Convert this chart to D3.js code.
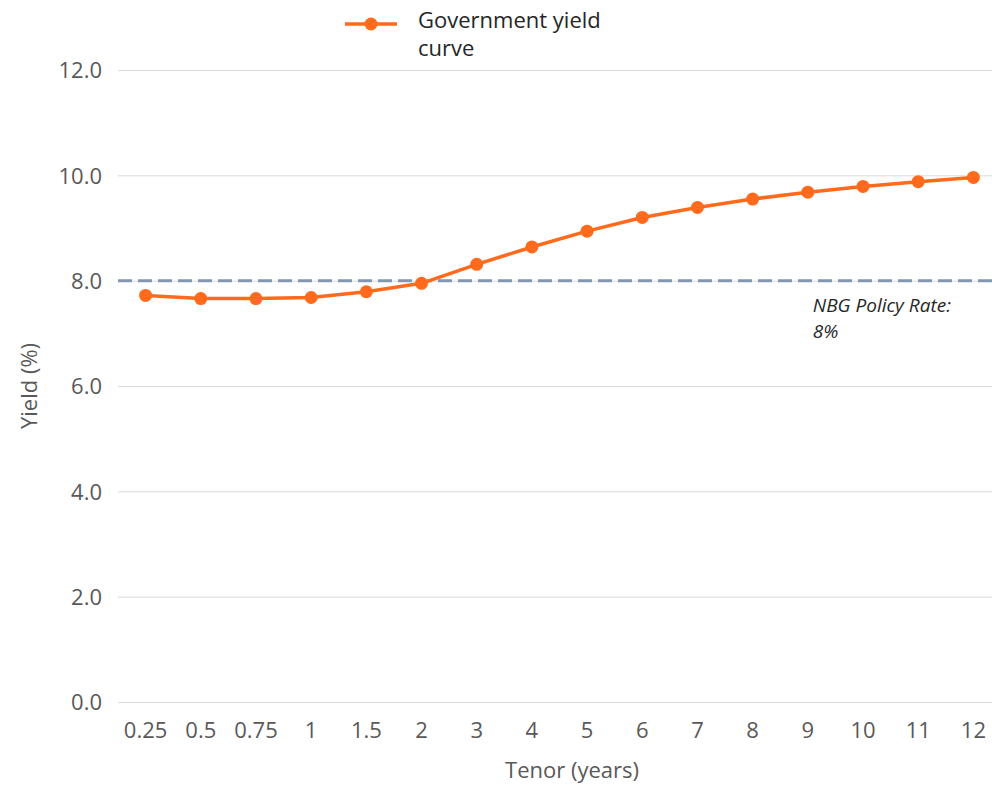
<meta charset="utf-8">
<script src="https://cdn.jsdelivr.net/npm/d3@7/dist/d3.min.js"></script>

<style>
  body {
    margin: 0;
    background-color: #ffffff;
  }
  .chartText {
    font-family: "Open Sans", "Noto Sans", sans-serif;
  }
  .grid line {
    stroke: #d9d9d9;
    stroke-width: 1;
  }
</style>

<div id="yieldcurve"></div>

<script>
// tenors along the x axis (categories)
var tenors = ["0.25", "0.5", "0.75", "1", "1.5", "2", "3", "4", "5", "6", "7", "8", "9", "10", "11", "12"];
// government yields
var yields = [7.72, 7.66, 7.66, 7.68, 7.79, 7.95, 8.31, 8.64, 8.94, 9.20, 9.39, 9.55, 9.68, 9.79, 9.88, 9.96];
// NBG policy rate
var policyRate = 8;
var yTicks = [0, 2, 4, 6, 8, 10, 12];

var seriesName = ["Government yield", "curve"];
var policyLabel = ["NBG Policy Rate:", "8%"];

var orange = "#ff6a1c";
var grey = "#8497b0";
var textCol = "#595959";
var fontFam = "'Open Sans', 'Noto Sans', sans-serif";

// plot area runs a bit past the right edge, like the original
var margin = {top: 70, left: 118},
    plotW = 883,
    plotH = 632;

var svg = d3.select("#yieldcurve")
  .append("svg")
    .attr("width", 992)
    .attr("height", 785)
    .attr("class", "chartText");

var g = svg.append("g")
    .attr("transform", "translate(" + margin.left + "," + margin.top + ")");

var x = d3.scaleBand()
  .domain(tenors)
  .range([0, plotW]);

var y = d3.scaleLinear()
  .domain([0, 12])
  .range([plotH, 0]);

// gridlines
g.append("g")
    .attr("class", "grid")
    .call(d3.axisLeft(y).tickValues(yTicks).tickSize(-plotW).tickFormat(""))
    .select(".domain").remove();

// y axis labels
var yAxis = g.append("g")
    .call(d3.axisLeft(y).tickValues(yTicks).tickSize(0).tickPadding(16).tickFormat(d3.format(".1f")));
yAxis.select(".domain").remove();
yAxis.selectAll("text")
    .attr("font-family", fontFam)
    .attr("font-size", "22px")
    .attr("dy", "0.35em")
    .style("fill", textCol);

// x axis labels
var xAxis = g.append("g")
    .attr("transform", "translate(0," + plotH + ")")
    .call(d3.axisBottom(x).tickSize(0).tickPadding(20));
xAxis.select(".domain").remove();
xAxis.selectAll("text")
    .attr("font-family", fontFam)
    .attr("font-size", "22px")
    .style("fill", textCol);

// policy rate dashed line
g.append("line")
    .attr("x1", 0)
    .attr("x2", plotW)
    .attr("y1", y(policyRate))
    .attr("y2", y(policyRate))
    .attr("stroke", grey)
    .attr("stroke-width", 3)
    .attr("stroke-dasharray", "14,6");

// policy rate label
var labelX = x("9") + x.bandwidth() / 2 + 5;
var pl = g.append("text")
    .attr("x", labelX)
    .attr("y", y(policyRate) + 31)
    .attr("font-size", "19px")
    .attr("font-style", "italic")
    .style("fill", "#262626");
pl.selectAll("tspan")
  .data(policyLabel)
  .enter()
  .append("tspan")
    .attr("x", labelX)
    .attr("dy", function(d, i) { return i == 0 ? 0 : 26; })
    .text(function(d) { return d; });

var pts = tenors.map(function(t, i) { return {t: t, v: yields[i]}; });

// the curve
g.append("path")
    .datum(pts)
    .attr("fill", "none")
    .attr("stroke", orange)
    .attr("stroke-width", 3.5)
    .attr("stroke-linejoin", "round")
    .attr("d", d3.line()
      .x(function(d) { return x(d.t) + x.bandwidth() / 2; })
      .y(function(d) { return y(d.v); })
    );

// markers
g.selectAll("circle.pt")
  .data(pts)
  .enter()
  .append("circle")
    .attr("class", "pt")
    .attr("cx", function(d) { return x(d.t) + x.bandwidth() / 2; })
    .attr("cy", function(d) { return y(d.v); })
    .attr("r", 6.5)
    .attr("fill", orange);

// legend
var leg = svg.append("g").attr("transform", "translate(345,24)");
leg.append("line")
    .attr("x1", 0).attr("x2", 52)
    .attr("stroke", orange)
    .attr("stroke-width", 3.5);
leg.append("circle")
    .attr("cx", 26)
    .attr("r", 6.5)
    .attr("fill", orange);
var legText = leg.append("text")
    .attr("font-size", "22px")
    .style("fill", "#262626");
legText.selectAll("tspan")
  .data(seriesName)
  .enter()
  .append("tspan")
    .attr("x", 73)
    .attr("y", function(d, i) { return 4 + i * 28; })
    .text(function(d) { return d; });

// axis titles
svg.append("text")
    .attr("transform", "translate(37," + (margin.top + y(6)) + ")rotate(-90)")
    .attr("text-anchor", "middle")
    .attr("font-size", "22px")
    .style("fill", textCol)
    .text("Yield (%)");

svg.append("text")
    .attr("x", 572)
    .attr("y", 778)
    .attr("text-anchor", "middle")
    .attr("font-size", "22px")
    .style("fill", textCol)
    .text("Tenor (years)");
</script>
